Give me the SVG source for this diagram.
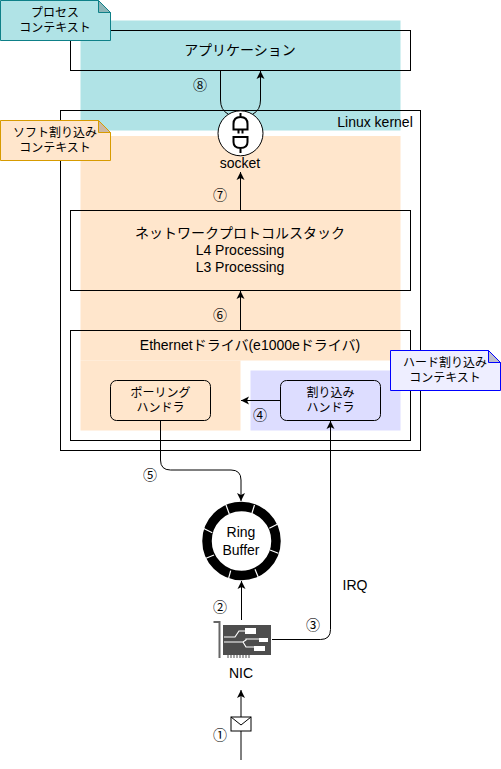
<svg xmlns="http://www.w3.org/2000/svg" width="501" height="769" viewBox="0 0 501 769">
<style>
text{font-family:"Liberation Sans","Noto Sans CJK JP",sans-serif;fill:#000;text-anchor:middle;font-size:12px}
.b{fill:none;stroke:#000;stroke-width:1}
.l{fill:none;stroke:#000;stroke-width:1}
.big{font-size:14px}
.n{font-size:14px}
.c{font-size:14px}
.seg{stroke:#fff;stroke-width:1.2;fill:none}
</style>
<defs>
<marker id="a" markerUnits="userSpaceOnUse" markerWidth="10" markerHeight="10" refX="8" refY="4.5" orient="auto"><path d="M0 0.5L8 4.5L0 8.5L2 4.5Z" fill="#000"/></marker>
</defs>
<g id="regions">
<rect x="80.500" y="20.500" width="320" height="110" fill="#b0e3e6"/>
<rect x="80.500" y="136" width="320" height="224.500" fill="#ffe6cc"/>
<rect x="80.500" y="360.500" width="160" height="70" fill="#ffe6cc"/>
<rect x="250.500" y="370.500" width="150" height="60" fill="#ddddff"/>
</g>
<g id="kernel"><rect class="b" x="60.500" y="110.500" width="360" height="340"/><text class="n" x="375" y="127">Linux kernel</text></g>
<g id="app"><rect class="b" x="70.500" y="30.500" width="340" height="40"/><text class="big" x="240" y="55">アプリケーション</text></g>
<g id="network"><rect class="b" x="70.500" y="210.500" width="340" height="80"/><text class="big" x="240" y="238">ネットワークプロトコルスタック</text><text class="big" x="240" y="255">L4 Processing</text><text class="big" x="240" y="272">L3 Processing</text></g>
<g id="ethernet"><rect class="b" x="70.500" y="330.500" width="340" height="110"/><text class="n" x="250" y="350">Ethernetドライバ(e1000eドライバ)</text></g>
<g id="polling"><rect class="b" x="110.500" y="380.500" width="100" height="40" rx="6"/><text x="160.500" y="397">ポーリング</text><text x="160.500" y="412">ハンドラ</text></g>
<g id="interrupt"><rect class="b" x="280.500" y="380.500" width="100" height="40" rx="6"/><text x="330.500" y="397">割り込み</text><text x="330.500" y="412">ハンドラ</text></g>
<g id="connectors">
<path class="l" d="M220.500 70.500V100Q220.500 110 228 114"/>
<path class="l" d="M253 114Q260.500 110 260.500 100V71" marker-end="url(#a)"/>
<path class="l" d="M240.500 210V172" marker-end="url(#a)"/>
<path class="l" d="M240.500 330V291" marker-end="url(#a)"/>
<path class="l" d="M280 400.500H241" marker-end="url(#a)"/>
<path class="l" d="M160.500 421V460Q160.500 470 170.500 470H231Q241 470 241 480V501" marker-end="url(#a)"/>
<path class="l" d="M272 639.500H320.500Q330.500 639.500 330.500 629.500V421" marker-end="url(#a)"/>
<path class="l" d="M241.500 620V581" marker-end="url(#a)"/>
<path class="l" d="M241 760V690" marker-end="url(#a)"/>
</g>
<g id="socket">
<circle cx="240.500" cy="133.300" r="22.500" fill="#fff" stroke="#000" stroke-width="1"/>
<path d="M240.500 113V117M233.500 129.500V124Q233.500 117 240.500 117Q247.500 117 247.500 124V129.500ZM238.500 129.500V133.500M242.500 129.500V133.500M233.500 137H247.500V142Q247.500 148 240.500 148Q233.500 148 233.500 142ZM240.500 148V153" fill="#fff" stroke="#000" stroke-width="2"/>
<text class="n" x="240" y="168">socket</text>
</g>
<g id="ring">
<circle cx="241.500" cy="541" r="34.500" fill="none" stroke="#000" stroke-width="9.500"/>
<path class="seg" d="M226 505L229.300 514M254.500 505L251.700 514M277.300 524.300L269.300 528.300M278.300 553.300L270 550M258.300 577.300L255 569.300M228.300 579.300L230.700 570.700M214 555L206 558.300M203.300 528.300L212.300 532.700"/>
<text class="n" x="241" y="537">Ring</text><text class="n" x="241" y="555">Buffer</text>
</g>
<g id="nic">
<path d="M213.500 621H220.500V658H218.500V623H213.500Z" fill="#666"/>
<rect x="223" y="625" width="48" height="30" fill="#4d4d4d"/>
<path d="M224 637H235L239 631H246M224 642H243L246 640V639H260M224 642H243L246 647H256" fill="none" stroke="#fff" stroke-width="1.200"/>
<rect x="245" y="628" width="11" height="6" fill="#fff"/><rect x="259" y="638" width="9" height="4" fill="#fff"/><rect x="254" y="646" width="11" height="5" fill="#fff"/>
<path d="M228 655V658M231 655V658M234 655V658M237 655V658M240 655V658M243 655V658M246 655V658M249 655V658" stroke="#4d4d4d" stroke-width="1"/>
<text class="n" x="241" y="678">NIC</text>
</g>
<g id="packet"><rect x="231" y="717" width="20" height="14" fill="#fff" stroke="#000" stroke-width="1"/><path d="M231 717L241 725L251 717" fill="none" stroke="#000"/></g>
<g id="note-process"><path d="M0.500 0.500H98.500L110.500 12.500V40.500H0.500Z" fill="#b0e3e6" stroke="#0e8088"/><path d="M98.500 0.500V12.500H110.500Z" fill="#8cb5b8" stroke="#0e8088"/><text x="55" y="17">プロセス</text><text x="55" y="32">コンテキスト</text></g>
<g id="note-soft"><path d="M0.500 120.500H98.500L110.500 132.500V160.500H0.500Z" fill="#ffe6cc" stroke="#d79b00"/><path d="M98.500 120.500V132.500H110.500Z" fill="#ccb8a3" stroke="#d79b00"/><text x="55" y="137">ソフト割り込み</text><text x="55" y="152">コンテキスト</text></g>
<g id="note-hard"><path d="M390.500 350.500H488.500L500.500 362.500V390.500H390.500Z" fill="#eeeeff" stroke="#0000ff"/><path d="M488.500 350.500V362.500H500.500Z" fill="#bebecc" stroke="#0000ff"/><text x="445" y="367">ハード割り込み</text><text x="445" y="382">コンテキスト</text></g>
<g id="labels" opacity="0.99">
<text class="c" x="200" y="90">⑧</text>
<text class="c" x="220" y="200">⑦</text>
<text class="c" x="220" y="320">⑥</text>
<text class="c" x="260" y="420">④</text>
<text class="c" x="150" y="480">⑤</text>
<text class="c" x="220" y="612">②</text>
<text class="c" x="313" y="630">③</text>
<text class="c" x="220" y="740">①</text>
<text class="n" x="355" y="590">IRQ</text>
</g>
</svg>
